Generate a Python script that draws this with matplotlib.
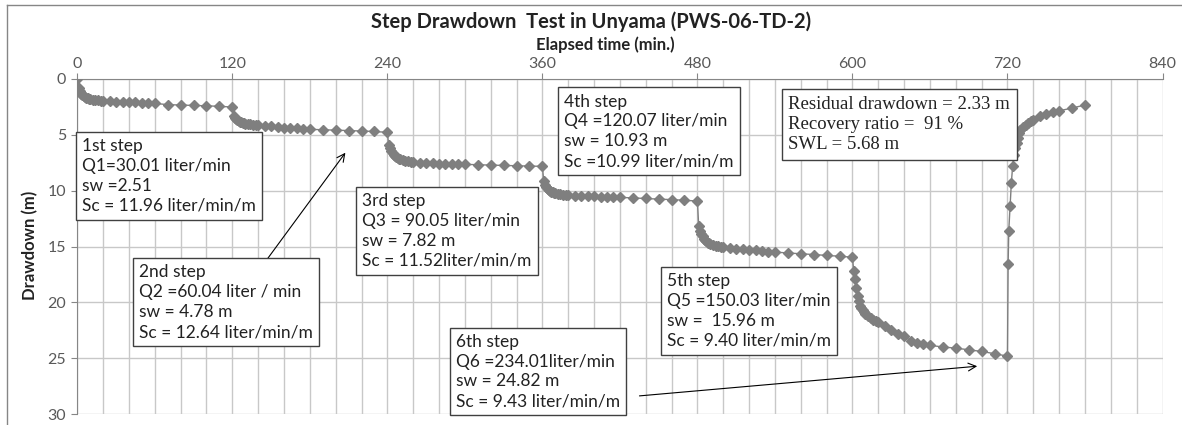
import numpy as np
import matplotlib
matplotlib.use("Agg")
from matplotlib import pyplot as plt
from matplotlib.lines import Line2D

# elapsed time (min) and drawdown (m)
step_min = [1, 2, 3, 4, 5, 6, 7, 8, 9, 10, 12, 14, 16, 18, 20, 25, 30, 35, 40,
            45, 50, 55, 60, 70, 80, 90, 100, 110, 120]

dd_step1 = [0.80, 1.10, 1.30, 1.42, 1.52, 1.60, 1.66, 1.72, 1.76, 1.80, 1.85,
            1.88, 1.91, 1.94, 1.97, 2.00, 2.03, 2.05, 2.08, 2.10, 2.12, 2.15,
            2.18, 2.30, 2.33, 2.37, 2.40, 2.45, 2.51]
dd_step2 = [3.30, 3.50, 3.62, 3.70, 3.77, 3.83, 3.88, 3.92, 3.96, 4.00, 4.04,
            4.07, 4.10, 4.12, 4.15, 4.20, 4.25, 4.30, 4.35, 4.38, 4.42, 4.45,
            4.50, 4.55, 4.58, 4.62, 4.66, 4.70, 4.78]
dd_step3 = [5.90, 6.20, 6.45, 6.65, 6.80, 6.90, 7.00, 7.08, 7.15, 7.20, 7.27,
            7.32, 7.37, 7.41, 7.45, 7.50, 7.53, 7.55, 7.57, 7.59, 7.61, 7.62,
            7.64, 7.68, 7.71, 7.74, 7.77, 7.80, 7.82]
dd_step4 = [9.10, 9.45, 9.70, 9.85, 9.95, 10.03, 10.10, 10.15, 10.20, 10.23,
            10.28, 10.32, 10.35, 10.38, 10.40, 10.45, 10.48, 10.50, 10.52,
            10.54, 10.56, 10.58, 10.60, 10.65, 10.70, 10.76, 10.80, 10.86, 10.93]
dd_step5 = [13.20, 13.60, 13.90, 14.10, 14.30, 14.45, 14.55, 14.65, 14.72,
            14.78, 14.86, 14.92, 14.97, 15.01, 15.05, 15.12, 15.18, 15.24,
            15.30, 15.35, 15.40, 15.45, 15.50, 15.58, 15.65, 15.72, 15.80,
            15.87, 15.96]
dd_step6 = [17.20, 17.90, 18.70, 19.40, 19.90, 20.30, 20.50, 20.70, 20.85,
            21.00, 21.20, 21.40, 21.55, 21.70, 21.80, 22.10, 22.50, 22.85,
            23.00, 23.45, 23.60, 23.75, 23.85, 24.00, 24.10, 24.25, 24.40,
            24.60, 24.82]

rec_min = [0.5, 1, 2, 3, 4, 5, 6, 7, 8, 9, 10, 12, 14, 16, 18, 20, 25, 30, 35,
           40, 50, 60]
dd_rec = [16.60, 13.60, 11.40, 9.30, 7.80, 6.80, 6.20, 5.75, 5.30, 4.85, 4.60,
          4.30, 4.10, 3.95, 3.80, 3.65, 3.35, 3.10, 2.95, 2.85, 2.60, 2.33]

steps = [dd_step1, dd_step2, dd_step3, dd_step4, dd_step5, dd_step6]

t = [0.0]
dd = [0.0]
for k, vals in enumerate(steps):
    t += [120 * k + m for m in step_min]
    dd += vals
t += [720 + m for m in rec_min]
dd += dd_rec

notes = [
    "1st step\nQ1=30.01 liter/min\nsw =2.51\nSc = 11.96 liter/min/m",
    "2nd step\nQ2 =60.04 liter / min\nsw = 4.78 m\nSc = 12.64 liter/min/m",
    "3rd step\nQ3 = 90.05 liter/min\nsw = 7.82 m\nSc = 11.52liter/min/m",
    "4th step\nQ4 =120.07 liter/min\nsw = 10.93 m\nSc =10.99 liter/min/m",
    "5th step\nQ5 =150.03 liter/min\nsw =  15.96 m\nSc = 9.40 liter/min/m",
    "6th step\nQ6 =234.01liter/min\nsw = 24.82 m\nSc = 9.43 liter/min/m",
]
note_pos = [(4.0, 5.3), (47.5, 16.6), (220.5, 10.2), (377.0, 1.3),
            (456.5, 17.4), (293.0, 22.8)]
recovery_note = "Residual drawdown = 2.33 m\nRecovery ratio =  91 %\nSWL = 5.68 m"

SANS = ["Lato", "DejaVu Sans"]
GRAY = "#595959"

fig = plt.figure(figsize=(11.82, 4.25), dpi=100)
ax = fig.add_axes([77.3 / 1182, 1 - 414 / 425, (1162.5 - 77.3) / 1182, (414 - 79) / 425])

ax.plot(t, dd, color="#7f7f7f", lw=1.0, marker="D", ms=5.5,
        mec="#7f7f7f", mfc="#7f7f7f", zorder=3)

ax.set_xlim(0, 840)
ax.set_ylim(30, 0)
ax.xaxis.tick_top()
ax.set_xticks(np.arange(0, 841, 120))
ax.set_xticks(np.arange(0, 841, 20), minor=True)
ax.set_yticks(np.arange(0, 31, 5))
ax.grid(True, which="both", axis="x", color="#c8c8c8", lw=1.0)
ax.grid(True, which="major", axis="y", color="#c8c8c8", lw=1.0)
ax.set_axisbelow(True)
for s in ["right", "bottom"]:
    ax.spines[s].set_visible(False)
for s in ["left", "top"]:
    ax.spines[s].set_color("#868686")
ax.tick_params(which="major", length=4, color="#868686", labelcolor=GRAY,
               labelsize=11.5, pad=4)
ax.tick_params(axis="x", which="major", pad=2)
ax.tick_params(which="minor", length=0)
for lab in ax.get_xticklabels() + ax.get_yticklabels():
    lab.set_family(SANS)

box = dict(boxstyle="square,pad=0.35", fc="white", ec="#404040", lw=1.0)
for txt, (x, y) in zip(notes, note_pos):
    ax.text(x, y, txt, ha="left", va="top", fontsize=12.5, family=SANS,
            color="#222222", linespacing=1.3, bbox=box, zorder=5)
ax.text(550.5, 1.5, recovery_note, ha="left", va="top", fontsize=13.5,
        family=["Liberation Serif", "DejaVu Serif"], color="#222222",
        linespacing=1.25, bbox=box, zorder=5)

arrow = dict(arrowstyle="->", color="black", lw=0.8, mutation_scale=14)
ax.annotate("", xy=(208.8, 6.4), xytext=(145.3, 16.4), arrowprops=arrow, zorder=4)
ax.annotate("", xy=(698.7, 25.7), xytext=(433.0, 28.4), arrowprops=arrow, zorder=4)

fig.text(0.5, 1 - 22 / 425, "Step Drawdown  Test in Unyama (PWS-06-TD-2)",
         ha="center", va="center", fontsize=14.5, weight="bold", family=SANS,
         color="#222222")
fig.text(605 / 1182, 1 - 45 / 425, "Elapsed time (min.)", ha="center",
         va="center", fontsize=12, weight="bold", family=SANS, color="#222222")
fig.text(30 / 1182, 1 - 245 / 425, "Drawdown (m)", ha="center", va="center",
         rotation=90, fontsize=12, weight="bold", family=SANS, color="#222222")

# chart area border (left and top edges show in the crop)
fig.add_artist(Line2D([7 / 1182, 7 / 1182], [0, 1 - 5 / 425], color="#868686", lw=1.0))
fig.add_artist(Line2D([7 / 1182, 1], [1 - 5 / 425, 1 - 5 / 425], color="#868686", lw=1.0))

fig.savefig("out.png", dpi=100)
